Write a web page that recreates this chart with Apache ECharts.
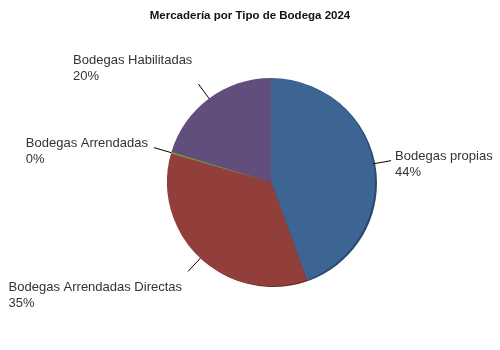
<!DOCTYPE html>
<html>
<head>
<meta charset="utf-8">
<script src="https://cdn.jsdelivr.net/npm/echarts@6/dist/echarts.min.js"></script>
<style>
html,body{margin:0;padding:0;background:#fff;}
#chart{width:500px;height:350px;}
</style>
</head>
<body>
<div id="chart"></div>
<script>
const titleText = 'Mercadería por Tipo de Bodega 2024';
const categories = ['Bodegas propias', 'Bodegas Arrendadas Directas', 'Bodegas Arrendadas', 'Bodegas Habilitadas'];
const values = [44.4, 35.0, 0.3, 20.3];
const colors = ['#3d6594', '#923f3c', '#7a9440', '#614e7c'];
const rimColors = ['#2b4a70', '#6e2d2b', '#5a6e2e', '#463859'];

const chart = echarts.init(document.getElementById('chart'), null, {renderer: 'canvas'});

const mainData = categories.map((name, i) => ({name: name, value: values[i], itemStyle: {color: colors[i]}}));
const rimData = categories.map((name, i) => ({name: name, value: values[i], itemStyle: {color: rimColors[i]}}));

function placeLabel(params) {
  const pts = params.labelLinePoints;
  if (!pts) return {};
  const p0 = pts[0], p1 = pts[pts.length - 1];
  const dx = p1[0] - p0[0], dy = p1[1] - p0[1];
  const len = Math.hypot(dx, dy) || 1;
  const c = dx / len, s = dy / len;
  const inset = 4;
  const start = [p0[0] - c * inset, p0[1] - s * inset];
  const w = params.labelRect.width, h = params.labelRect.height;
  const x = c < 0 ? p1[0] - 6 - w : p1[0] + 4;
  let y;
  if (s < -0.5) y = p1[1] - 4 - h;
  else if (s > 0.5) y = p1[1] + 4;
  else y = p1[1] - h / 2;
  y += 4;
  return {x: x, y: y, align: 'left', verticalAlign: 'top', labelLinePoints: [start, p1]};
}

chart.setOption({
  animation: false,
  backgroundColor: '#ffffff',
  title: {
    text: titleText,
    left: 'center',
    top: 5,
    textStyle: {fontFamily: 'Liberation Sans, Arial, sans-serif', fontSize: 11.5, fontWeight: 'bold', color: '#111'}
  },
  series: [
    {
      type: 'pie',
      silent: true,
      z: 1,
      center: [273, 183],
      radius: 104,
      startAngle: 90,
      clockwise: true,
      label: {show: false},
      labelLine: {show: false},
      data: rimData
    },
    {
      type: 'pie',
      z: 2,
      center: [271, 182],
      radius: 104,
      startAngle: 90,
      clockwise: true,
      avoidLabelOverlap: false,
      itemStyle: {borderWidth: 0},
      label: {
        show: true,
        position: 'outside',
        alignTo: 'none',
        bleedMargin: 0,
        fontFamily: 'Liberation Sans, Arial, sans-serif',
        fontSize: 13,
        lineHeight: 16,
        color: '#333',
        formatter: function (p) { return p.name + '\n' + Math.round(p.percent) + '%'; }
      },
      labelLine: {show: true, length: 18, length2: 0, smooth: false, lineStyle: {color: '#000', width: 1}},
      labelLayout: placeLabel,
      emphasis: {disabled: true},
      data: mainData
    }
  ]
});
</script>
</body>
</html>
